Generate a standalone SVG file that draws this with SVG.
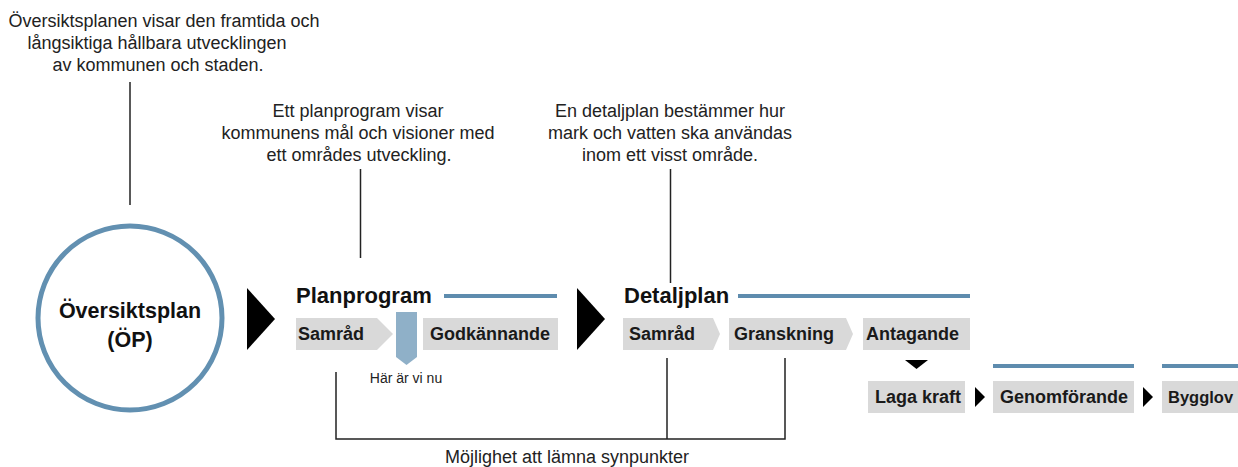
<svg xmlns="http://www.w3.org/2000/svg" width="1238" height="467" viewBox="0 0 1238 467">
<style>
.desc{font-family:"Liberation Sans",Arial,sans-serif;font-size:18px;fill:#222;text-anchor:middle}
.title{font-family:"Liberation Sans",Arial,sans-serif;font-size:22px;font-weight:bold;fill:#111}
.lbl{font-family:"Liberation Sans",Arial,sans-serif;font-size:18px;font-weight:bold;fill:#1a1a1a}
.box{fill:#d9d9d9}
.bar{stroke:#5e8cae;stroke-width:4;fill:none}
.ln{stroke:#222;stroke-width:1.5;fill:none}
.tri{fill:#000}
</style>
<rect width="1238" height="467" fill="#fff"/>

<g id="op-desc">
<text class="desc" x="164" y="27">Översiktsplanen visar den framtida och</text>
<text class="desc" x="157" y="49">långsiktiga hållbara utvecklingen</text>
<text class="desc" x="158" y="71">av kommunen och staden.</text>
</g>

<g id="pp-desc">
<text class="desc" x="358" y="117">Ett planprogram visar</text>
<text class="desc" x="358" y="139">kommunens mål och visioner med</text>
<text class="desc" x="359" y="161">ett områdes utveckling.</text>
</g>

<g id="dp-desc">
<text class="desc" x="670" y="117">En detaljplan bestämmer hur</text>
<text class="desc" x="670" y="139">mark och vatten ska användas</text>
<text class="desc" x="670" y="161">inom ett visst område.</text>
</g>

<g id="op">
<circle cx="130" cy="318" r="92" fill="#fff" stroke="#6290b1" stroke-width="5"/>
<text x="130" y="318" text-anchor="middle" style="font-family:'Liberation Sans',Arial,sans-serif;font-size:21.5px;font-weight:bold;fill:#111">Översiktsplan</text>
<text x="130" y="347" text-anchor="middle" style="font-family:'Liberation Sans',Arial,sans-serif;font-size:21.5px;font-weight:bold;fill:#111">(ÖP)</text>
</g>

<g id="arrow1"><polygon class="tri" points="247,288 275,319 247,350"/></g>
<g id="arrow2"><polygon class="tri" points="577,288 605,319 577,350"/></g>

<g id="planprogram">
<text class="title" x="296" y="303">Planprogram</text>
<line class="bar" x1="444" y1="296" x2="557" y2="296"/>
</g>

<g id="pp-samrad">
<polygon class="box" points="296,318 377,318 393,334 377,350 296,350"/>
<text class="lbl" x="298" y="340">Samråd</text>
</g>

<g id="here">
<polygon points="396,312 417,312 417,357 406.5,365 396,357" fill="#8fb0c8"/>
<text x="406" y="383" text-anchor="middle" style="font-family:'Liberation Sans',Arial,sans-serif;font-size:14px;fill:#222">Här är vi nu</text>
</g>

<g id="pp-godk">
<rect class="box" x="423" y="318" width="135" height="32"/>
<text class="lbl" x="430" y="340">Godkännande</text>
</g>

<g id="detaljplan">
<text class="title" x="624" y="303">Detaljplan</text>
<line class="bar" x1="738" y1="296" x2="970" y2="296"/>
</g>

<g id="dp-samrad">
<polygon class="box" points="623,318 713,318 720,334 713,350 623,350"/>
<text class="lbl" x="629" y="340">Samråd</text>
</g>

<g id="dp-granskning">
<polygon class="box" points="729,318 846,318 853,334 846,350 729,350"/>
<text class="lbl" x="734" y="340">Granskning</text>
</g>

<g id="dp-antagande">
<rect class="box" x="863" y="318" width="107" height="32"/>
<text class="lbl" x="866" y="340">Antagande</text>
</g>

<g id="arrow3"><polygon class="tri" points="905,360 928,360 916.5,369"/></g>

<g id="laga-kraft">
<rect class="box" x="868" y="381" width="97" height="32"/>
<text class="lbl" x="875" y="403">Laga kraft</text>
</g>

<g id="arrow4"><polygon class="tri" points="975,387 985,397 975,407"/></g>

<g id="genomforande">
<line class="bar" x1="993" y1="366" x2="1134" y2="366"/>
<rect class="box" x="993" y="381" width="141" height="32"/>
<text class="lbl" x="1000" y="403">Genomförande</text>
</g>

<g id="arrow5"><polygon class="tri" points="1143,387 1153,397 1143,407"/></g>

<g id="bygglov">
<line class="bar" x1="1162" y1="366" x2="1238" y2="366"/>
<rect class="box" x="1162" y="381" width="76" height="32"/>
<text class="lbl" x="1168" y="403" style="font-size:16.5px">Bygglov</text>
</g>

<g id="connectors">
<line class="ln" x1="130" y1="82" x2="130" y2="205"/>
<line class="ln" x1="360.5" y1="169" x2="360.5" y2="258"/>
<line class="ln" x1="670.5" y1="169" x2="670.5" y2="283"/>
<polyline class="ln" points="336,372 336,439 785,439 785,358"/>
<line class="ln" x1="667" y1="358" x2="667" y2="439"/>
</g>

<g id="feedback">
<text class="desc" x="567" y="463">Möjlighet att lämna synpunkter</text>
</g>
</svg>
